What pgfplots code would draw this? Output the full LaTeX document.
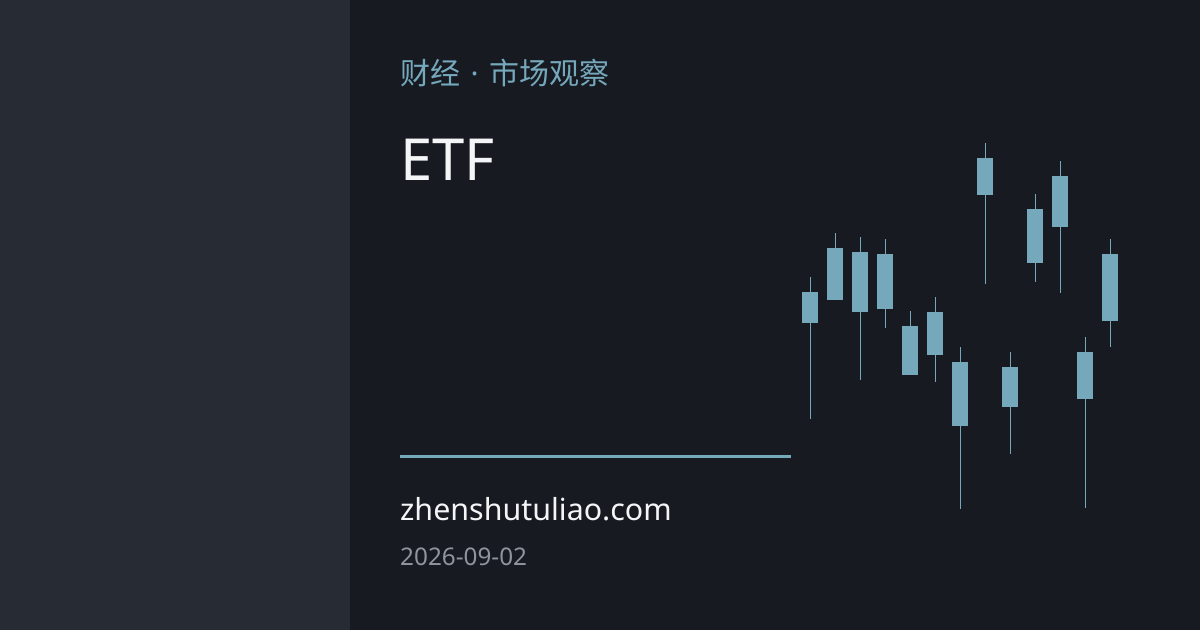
\documentclass[border=0pt]{standalone}
\usepackage{pgfplots}
\pgfplotsset{compat=1.18}
\usepackage{pgfplotstable}
\usepackage{fontspec}
\setmainfont{Noto Sans}
\newfontfamily\cjk{Noto Sans CJK SC}

\definecolor{panel}{HTML}{272B33}
\definecolor{bg}{HTML}{171A21}
\definecolor{accent}{HTML}{76A8BC}
\definecolor{datec}{HTML}{8E959F}
\definecolor{txt}{HTML}{F3F5F7}

% x, high, body top, body bottom, low (same units as the picture, y up)
\pgfplotstableread{
x    high  top  bot    low
810  353.3 338  307.3  211.3
835  397   382  330    330
860  393   378  318    250.3
885  391   376  321    302.3
910  319   304  255    255
935  333   318  275    248.3
960  283   268  204.3  121.3
985  487   472  435    346.3
1010 278   263  223.3  176.3
1035 436   421  367.3  348.3
1060 469   454  403    337.3
1085 293   278  231.3  122.3
1110 391   376  309    283.3
}\candles

\begin{document}
\begin{tikzpicture}[x=1pt,y=1pt]
  \path[use as bounding box] (0,0) rectangle (1200,630);
  \fill[bg] (0,0) rectangle (1200,630);
  \fill[panel] (0,0) rectangle (350,630);

  \node[anchor=base west, inner sep=0, text=accent] at (400,545)
    {\fontsize{30}{36}\selectfont{\cjk 财经}\hspace{10.5pt}·\hspace{10.5pt}{\cjk 市场观察}};
  \node[anchor=base west, inner sep=0, text=txt] at (400,449)
    {\fontsize{58}{66}\selectfont ETF};
  \draw[accent, line width=3pt] (400,173.3) -- (790.7,173.3);
  \node[anchor=base west, inner sep=0, text=txt] at (400,110)
    {\fontsize{30.4}{36}\selectfont zhenshutuliao.com};
  \node[anchor=base west, inner sep=0, text=datec] at (400,65)
    {\fontsize{24.3}{29}\selectfont 2026-09-02};

  \begin{axis}[
      at={(0,0)}, anchor=south west,
      scale only axis, width=1200pt, height=630pt,
      xmin=0, xmax=1200, ymin=0, ymax=630,
      axis lines=none, clip=false,
    ]
    % wicks
    \addplot[draw=none, mark=none,
      error bars/.cd, y dir=both, y explicit, error mark=none,
      error bar style={line width=1pt, draw=accent}]
      table[x=x, y expr={(\thisrow{high}+\thisrow{low})/2},
            y error expr={(\thisrow{high}-\thisrow{low})/2}] {\candles};
    % bodies
    \addplot[draw=none, mark=none,
      error bars/.cd, y dir=both, y explicit, error mark=none,
      error bar style={line width=15.3pt, draw=accent}]
      table[x=x, y expr={(\thisrow{top}+\thisrow{bot})/2},
            y error expr={(\thisrow{top}-\thisrow{bot})/2}] {\candles};
  \end{axis}
\end{tikzpicture}
\end{document}
